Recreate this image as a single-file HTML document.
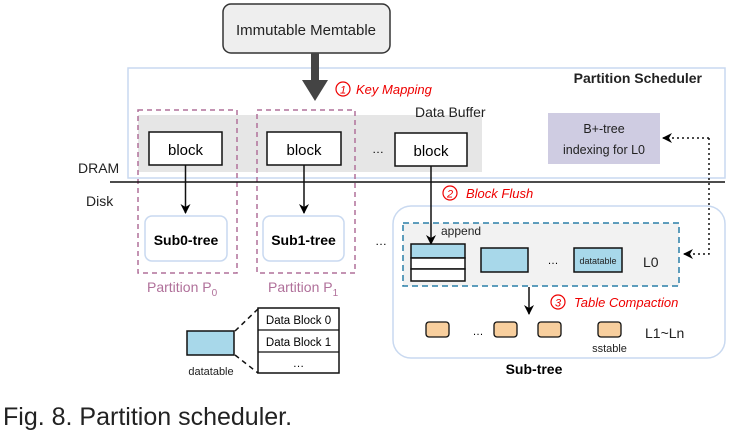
<!DOCTYPE html>
<html><head><meta charset="utf-8"><style>
html,body{margin:0;padding:0;background:#fff;}
svg{display:block;font-family:"Liberation Sans",Arial,sans-serif;}
</style></head><body>
<svg width="730" height="436" viewBox="0 0 730 436" xmlns="http://www.w3.org/2000/svg">
<defs>
<marker id="ah" markerWidth="10" markerHeight="10" refX="9" refY="5" orient="auto" markerUnits="userSpaceOnUse"><path d="M0,0 L10,5 L0,10 L3,5 Z" fill="#000"/></marker>
</defs>
<rect x="223" y="4" width="167" height="49" rx="8" fill="#eee" stroke="#333" stroke-width="1.5"/>
<text x="306" y="35" font-size="15" text-anchor="middle" fill="#222">Immutable Memtable</text>
<rect x="128" y="68" width="597" height="110" fill="#fff" stroke="#c9d9f0" stroke-width="1.5"/>
<text x="702" y="83" font-size="14" font-weight="bold" text-anchor="end" fill="#222">Partition Scheduler</text>
<rect x="311" y="53" width="8" height="30" fill="#444"/>
<path d="M302,80 L328,80 L315,101 Z" fill="#444"/>
<circle cx="343" cy="89" r="7" fill="none" stroke="#e00" stroke-width="1.2"/>
<text x="343" y="93.5" font-size="11" font-style="italic" text-anchor="middle" fill="#e00">1</text>
<text x="356" y="94" font-size="13" font-style="italic" fill="#e00">Key Mapping</text>
<rect x="138" y="115" width="344" height="57" fill="#e6e6e6"/>
<text x="415" y="117" font-size="14" fill="#222">Data Buffer</text>
<rect x="548" y="113" width="112" height="51" fill="#cfcce2"/>
<text x="604" y="133" font-size="12.5" text-anchor="middle" fill="#222">B+-tree</text>
<text x="604" y="154" font-size="12.5" text-anchor="middle" fill="#222">indexing for L0</text>
<rect x="138" y="110" width="99" height="163" fill="none" stroke="#b0709a" stroke-width="1.5" stroke-dasharray="5,4"/>
<rect x="257" y="110" width="98" height="163" fill="none" stroke="#b0709a" stroke-width="1.5" stroke-dasharray="5,4"/>
<rect x="149" y="132" width="73" height="33" fill="#fff" stroke="#111" stroke-width="1.5"/>
<text x="185.5" y="155" font-size="15" text-anchor="middle">block</text>
<rect x="267" y="132" width="74" height="33" fill="#fff" stroke="#111" stroke-width="1.5"/>
<text x="304" y="155" font-size="15" text-anchor="middle">block</text>
<text x="378" y="153" font-size="12" text-anchor="middle">…</text>
<rect x="395" y="133" width="72" height="33" fill="#fff" stroke="#111" stroke-width="1.5"/>
<text x="431" y="156" font-size="15" text-anchor="middle">block</text>
<line x1="110" y1="182" x2="725" y2="182" stroke="#111" stroke-width="1.5"/>
<text x="78" y="173" font-size="14" fill="#222">DRAM</text>
<text x="86" y="206" font-size="14" fill="#222">Disk</text>
<line x1="185.5" y1="165" x2="185.5" y2="213" stroke="#111" stroke-width="1.5" marker-end="url(#ah)"/>
<line x1="304" y1="165" x2="304" y2="213" stroke="#111" stroke-width="1.5" marker-end="url(#ah)"/>
<rect x="145" y="216" width="82" height="45" rx="7" fill="#fff" stroke="#c9d9f0" stroke-width="1.5"/>
<text x="186" y="245" font-size="14" font-weight="bold" text-anchor="middle">Sub0-tree</text>
<rect x="263" y="216" width="81" height="45" rx="7" fill="#fff" stroke="#c9d9f0" stroke-width="1.5"/>
<text x="303.5" y="245" font-size="14" font-weight="bold" text-anchor="middle">Sub1-tree</text>
<text x="381" y="245" font-size="12" text-anchor="middle">…</text>
<text x="147" y="292" font-size="14" fill="#b0709a">Partition P<tspan font-size="10" dy="4">0</tspan></text>
<text x="268" y="292" font-size="14" fill="#b0709a">Partition P<tspan font-size="10" dy="4">1</tspan></text>
<rect x="187" y="331" width="47" height="24" fill="#a8d8ea" stroke="#111" stroke-width="1.5"/>
<text x="211" y="375" font-size="11" text-anchor="middle" fill="#222">datatable</text>
<line x1="235" y1="331" x2="258" y2="309" stroke="#111" stroke-width="1.5" stroke-dasharray="5,4"/>
<line x1="235" y1="355" x2="258" y2="373" stroke="#111" stroke-width="1.5" stroke-dasharray="5,4"/>
<rect x="258" y="308" width="81" height="65" fill="#fff" stroke="#111" stroke-width="1.5"/>
<line x1="258" y1="330" x2="339" y2="330" stroke="#111" stroke-width="1.2"/>
<line x1="258" y1="352" x2="339" y2="352" stroke="#111" stroke-width="1.2"/>
<text x="298.5" y="324" font-size="11.5" text-anchor="middle">Data Block 0</text>
<text x="298.5" y="346" font-size="11.5" text-anchor="middle">Data Block 1</text>
<text x="298.5" y="367" font-size="11.5" text-anchor="middle">…</text>
<rect x="393" y="206" width="332" height="152" rx="18" fill="#fff" stroke="#c9d9f0" stroke-width="1.5"/>
<text x="534" y="374" font-size="14" font-weight="bold" text-anchor="middle">Sub-tree</text>
<rect x="403" y="223" width="276" height="63" fill="#f2f2f2" stroke="#2a7fa8" stroke-width="1.5" stroke-dasharray="6,4"/>
<circle cx="450" cy="193" r="7" fill="none" stroke="#e00" stroke-width="1.2"/>
<text x="450" y="197.5" font-size="11" font-style="italic" text-anchor="middle" fill="#e00">2</text>
<text x="466" y="198" font-size="13" font-style="italic" fill="#e00">Block Flush</text>
<line x1="431" y1="166" x2="431" y2="244" stroke="#111" stroke-width="1.5" marker-end="url(#ah)"/>
<text x="441" y="235" font-size="12" fill="#222">append</text>
<rect x="411" y="244" width="54" height="14" fill="#a8d8ea" stroke="#111" stroke-width="1.5"/>
<rect x="411" y="258" width="54" height="11" fill="#fff" stroke="#111" stroke-width="1.5"/>
<rect x="411" y="269" width="54" height="12" fill="#fff" stroke="#111" stroke-width="1.5"/>
<rect x="481" y="248" width="47" height="24" fill="#a8d8ea" stroke="#111" stroke-width="1.5"/>
<text x="553" y="264" font-size="11" text-anchor="middle">…</text>
<rect x="574" y="248" width="48" height="24" fill="#a8d8ea" stroke="#111" stroke-width="1.5"/>
<text x="598" y="264" font-size="9" text-anchor="middle" fill="#222">datatable</text>
<text x="643" y="267" font-size="14" fill="#222">L0</text>
<polyline points="709,138 709,254 684,254" fill="none" stroke="#111" stroke-width="1.5" stroke-dasharray="2,3" marker-end="url(#ah)"/>
<line x1="709" y1="138" x2="663" y2="138" stroke="#111" stroke-width="1.5" stroke-dasharray="2,3" marker-end="url(#ah)"/>
<line x1="529" y1="287" x2="529" y2="314" stroke="#111" stroke-width="1.5" marker-end="url(#ah)"/>
<circle cx="558" cy="302" r="7" fill="none" stroke="#e00" stroke-width="1.2"/>
<text x="558" y="306.5" font-size="11" font-style="italic" text-anchor="middle" fill="#e00">3</text>
<text x="574" y="307" font-size="13" font-style="italic" fill="#e00">Table Compaction</text>
<rect x="426" y="322" width="23" height="15" rx="3" fill="#f8cf9e" stroke="#111" stroke-width="1.3"/>
<text x="478" y="335" font-size="11" text-anchor="middle">…</text>
<rect x="494" y="322" width="23" height="15" rx="3" fill="#f8cf9e" stroke="#111" stroke-width="1.3"/>
<rect x="538" y="322" width="23" height="15" rx="3" fill="#f8cf9e" stroke="#111" stroke-width="1.3"/>
<rect x="598" y="322" width="23" height="15" rx="3" fill="#f8cf9e" stroke="#111" stroke-width="1.3"/>
<text x="609.5" y="352" font-size="11" text-anchor="middle" fill="#222">sstable</text>
<text x="645" y="338" font-size="14" fill="#222">L1~Ln</text>
<text x="3" y="425" font-size="25" fill="#222">Fig. 8. Partition scheduler.</text>
</svg>
</body></html>
